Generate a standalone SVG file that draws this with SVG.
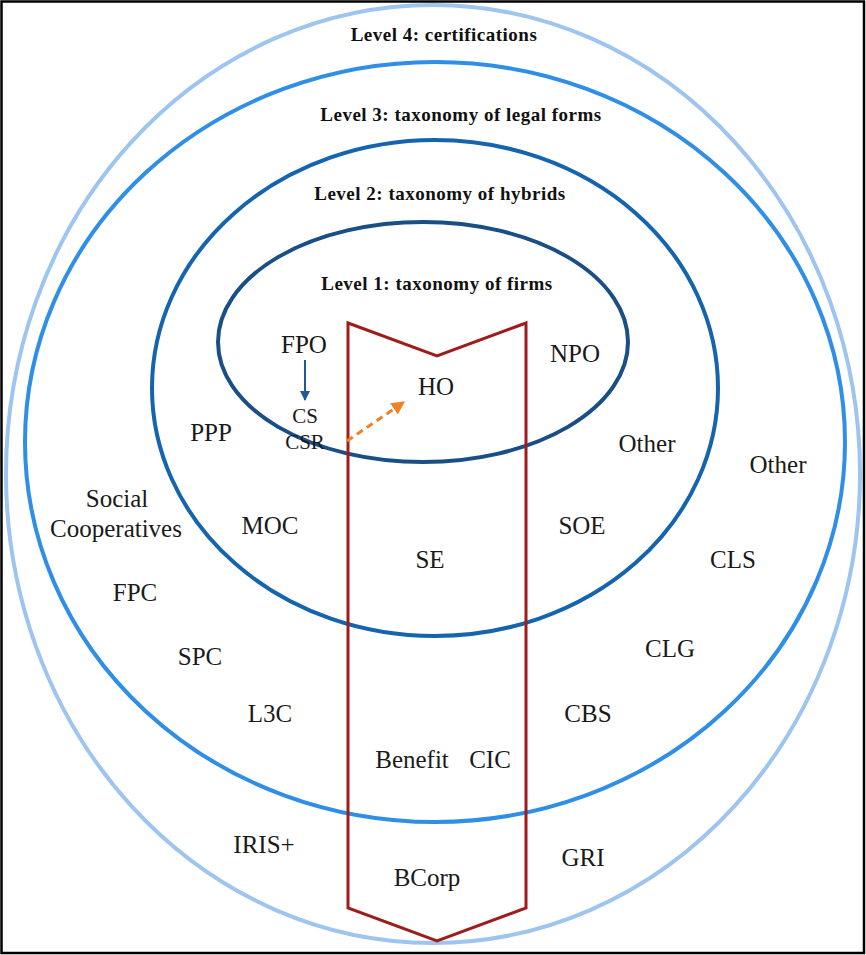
<svg xmlns="http://www.w3.org/2000/svg" width="866" height="955" viewBox="0 0 866 955">
<style>
.ring{fill:none;stroke-width:4}
.title{font-family:"Liberation Serif","Times New Roman",serif;font-weight:bold;font-size:19px;letter-spacing:0.5px;fill:#111;text-anchor:middle}
.lbl{font-family:"Liberation Serif","Times New Roman",serif;font-size:25px;fill:#1a1a1a;text-anchor:middle}
.sm{font-family:"Liberation Serif","Times New Roman",serif;font-size:21px;fill:#1a1a1a;text-anchor:middle}
</style>
<defs>
<marker id="hb" viewBox="0 0 10 10" refX="9" refY="5" markerWidth="5" markerHeight="5" orient="auto" markerUnits="strokeWidth">
<path d="M0,0 L10,5 L0,10 z" fill="#1f5b98"/>
</marker>
<marker id="ho" viewBox="0 0 10 10" refX="9" refY="5" markerWidth="4.5" markerHeight="4.5" orient="auto" markerUnits="strokeWidth">
<path d="M0,0 L10,5 L0,10 z" fill="#f08224"/>
</marker>
</defs>
<rect x="0" y="0" width="866" height="955" fill="#fff"/>
<rect x="1.5" y="1.5" width="862.5" height="951.5" fill="none" stroke="#000" stroke-width="2.5"/>

<g id="level4">
<ellipse class="ring" cx="433" cy="474" rx="427" ry="469" stroke="#9ec5f0"/>
<text class="title" x="444" y="41">Level 4: certifications</text>
</g>
<g id="level3">
<ellipse class="ring" cx="435" cy="442" rx="410" ry="380" stroke="#2f8fe6"/>
<text class="title" x="461" y="121">Level 3: taxonomy of legal forms</text>
</g>
<g id="level2">
<ellipse class="ring" cx="435" cy="388" rx="283" ry="248" stroke="#1565ae"/>
<text class="title" x="440" y="200">Level 2: taxonomy of hybrids</text>
</g>
<g id="level1">
<ellipse class="ring" cx="423" cy="342" rx="205" ry="120" stroke="#1a4f86"/>
<text class="title" x="437" y="290">Level 1: taxonomy of firms</text>
</g>

<g id="hybrid-band">
<polygon points="348,323 437,356 526,323 526,908 437,941 348,908" fill="none" stroke="#9e1c1c" stroke-width="3" stroke-linejoin="miter"/>
</g>

<g id="connectors">
<line x1="305" y1="360" x2="305" y2="400" stroke="#1f5b98" stroke-width="2" marker-end="url(#hb)"/>
<line x1="347" y1="441" x2="404" y2="402" stroke="#f08224" stroke-width="3" stroke-dasharray="7,5" marker-end="url(#ho)"/>
</g>

<g id="n-fpo"><text class="lbl" x="304" y="353">FPO</text></g>
<g id="n-cs"><text class="sm" x="305" y="423">CS</text></g>
<g id="n-csr"><text class="sm" x="305" y="449">CSR</text></g>
<g id="n-ho"><text class="lbl" x="436" y="395">HO</text></g>
<g id="n-npo"><text class="lbl" x="575" y="362">NPO</text></g>
<g id="n-ppp"><text class="lbl" x="211" y="441">PPP</text></g>
<g id="n-other1"><text class="lbl" x="647" y="452">Other</text></g>
<g id="n-other2"><text class="lbl" x="778" y="473">Other</text></g>
<g id="n-social"><text class="lbl" x="117" y="507">Social</text><text class="lbl" x="116" y="537">Cooperatives</text></g>
<g id="n-moc"><text class="lbl" x="270" y="534">MOC</text></g>
<g id="n-soe"><text class="lbl" x="582" y="534">SOE</text></g>
<g id="n-se"><text class="lbl" x="430" y="568">SE</text></g>
<g id="n-cls"><text class="lbl" x="733" y="568">CLS</text></g>
<g id="n-fpc"><text class="lbl" x="135" y="601">FPC</text></g>
<g id="n-clg"><text class="lbl" x="670" y="657">CLG</text></g>
<g id="n-spc"><text class="lbl" x="200" y="665">SPC</text></g>
<g id="n-l3c"><text class="lbl" x="270" y="722">L3C</text></g>
<g id="n-cbs"><text class="lbl" x="588" y="722">CBS</text></g>
<g id="n-benefit"><text class="lbl" x="412" y="768">Benefit</text></g>
<g id="n-cic"><text class="lbl" x="490" y="768">CIC</text></g>
<g id="n-iris"><text class="lbl" x="264" y="853">IRIS+</text></g>
<g id="n-gri"><text class="lbl" x="583" y="866">GRI</text></g>
<g id="n-bcorp"><text class="lbl" x="427" y="886">BCorp</text></g>
</svg>
